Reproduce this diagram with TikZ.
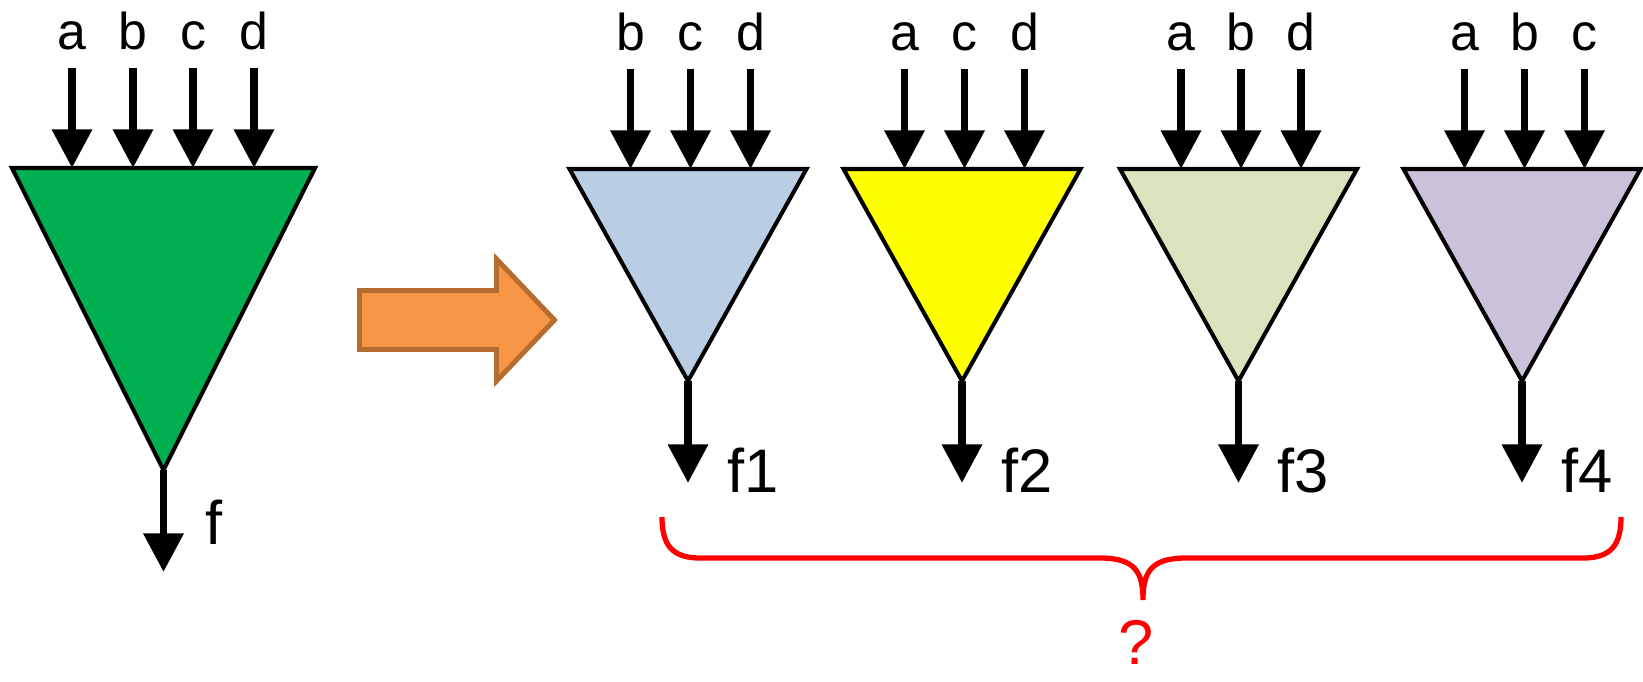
\documentclass[tikz,border=0pt]{standalone}
\usepackage{fontspec}
\setmainfont{Liberation Sans}
\usetikzlibrary{arrows.meta,calc}
\definecolor{verdeF}{RGB}{0,176,80}
\definecolor{azulF}{RGB}{185,205,229}
\definecolor{amarilloF}{RGB}{255,255,0}
\definecolor{olivaF}{RGB}{215,228,189}
\definecolor{lilaF}{RGB}{204,193,218}
\definecolor{naranjaF}{RGB}{247,150,70}
\definecolor{naranjaB}{RGB}{182,108,48}
\begin{document}
\begin{tikzpicture}[x=0.02cm,y=-0.02cm,
  tri/.style={draw=black,line width=2.3pt,line join=miter},
  flecha/.style={line width=4.5pt,-{Triangle[width=22pt,length=22pt]}},
  ent/.style={font=\fontsize{29.5}{30}\selectfont,anchor=base,inner sep=0pt},
  sal/.style={font=\fontsize{35}{36}\selectfont,anchor=base west,inner sep=0pt}]
\useasboundingbox (0,0) rectangle (1643,681);
% Bloque original con las cuatro entradas.
\coordinate (tA) at (12,168); \coordinate (tB) at (315,168); \coordinate (tC) at (163.5,470);
\filldraw[tri,fill=verdeF] (tA) -- (tB) -- (tC) -- cycle;
\foreach \l/\x in {a/72,b/133,c/193,d/254}{
  \node[ent] (e\l) at (\x,49) {\l};
  \coordinate (s\l) at (\x,68); \coordinate (p\l) at (\x,168);
  \draw[flecha] (s\l) -- (p\l);}
\coordinate (fo) at (163.5,572);
\draw[flecha] (tC) -- (fo);
\node[sal] (f) at (205,544) {f};
% Flecha de descomposición.
\filldraw[fill=naranjaF,draw=naranjaB,line width=2.8pt,line join=miter]
  (359.5,290.5) -- (496.5,290.5) -- (496.5,259) -- (554.5,320) -- (496.5,381) -- (496.5,349.5) -- (359.5,349.5) -- cycle;
% Los cuatro subbloques, cada uno sin una entrada.
\foreach \k/\cx/\col/\ins in {1/688/azulF/{b,c,d},2/962/amarilloF/{a,c,d},3/1238.5/olivaF/{a,b,d},4/1522/lilaF/{a,b,c}}{
  \coordinate (t\k A) at (\cx-118.5,169); \coordinate (t\k B) at (\cx+118.5,169); \coordinate (t\k C) at (\cx,381);
  \filldraw[tri,fill=\col] (t\k A) -- (t\k B) -- (t\k C) -- cycle;
  \foreach \l [count=\i] in \ins{
    \node[ent] (e\k\l) at (\cx+2.5+60*\i-120,50) {\l};
    \coordinate (s\k\l) at (\cx+2.5+60*\i-120,69); \coordinate (p\k\l) at (\cx+2.5+60*\i-120,169);
    \draw[flecha] (s\k\l) -- (p\k\l);}
  \coordinate (fo\k) at (\cx,483);
  \draw[flecha] (t\k C) -- (fo\k);
  \node[sal] (f\k) at (\cx+39,492) {f\k};}
% Llave y pregunta.
\coordinate (bL) at (662,517); \coordinate (bM) at (1143,600); \coordinate (bR) at (1621,517);
\draw[red,line width=3pt] (bL) .. controls (662,545) and (672,558) .. (700,558) -- (1100,558)
  .. controls (1135,558) and (1143,572) .. (bM) .. controls (1143,572) and (1151,558) .. (1186,558)
  -- (1583,558) .. controls (1611,558) and (1621,545) .. (bR);
\node[font=\fontsize{36}{36}\selectfont,text=red,anchor=base,inner sep=0pt] (q) at (1136,664) {?};
\end{tikzpicture}
\end{document}
